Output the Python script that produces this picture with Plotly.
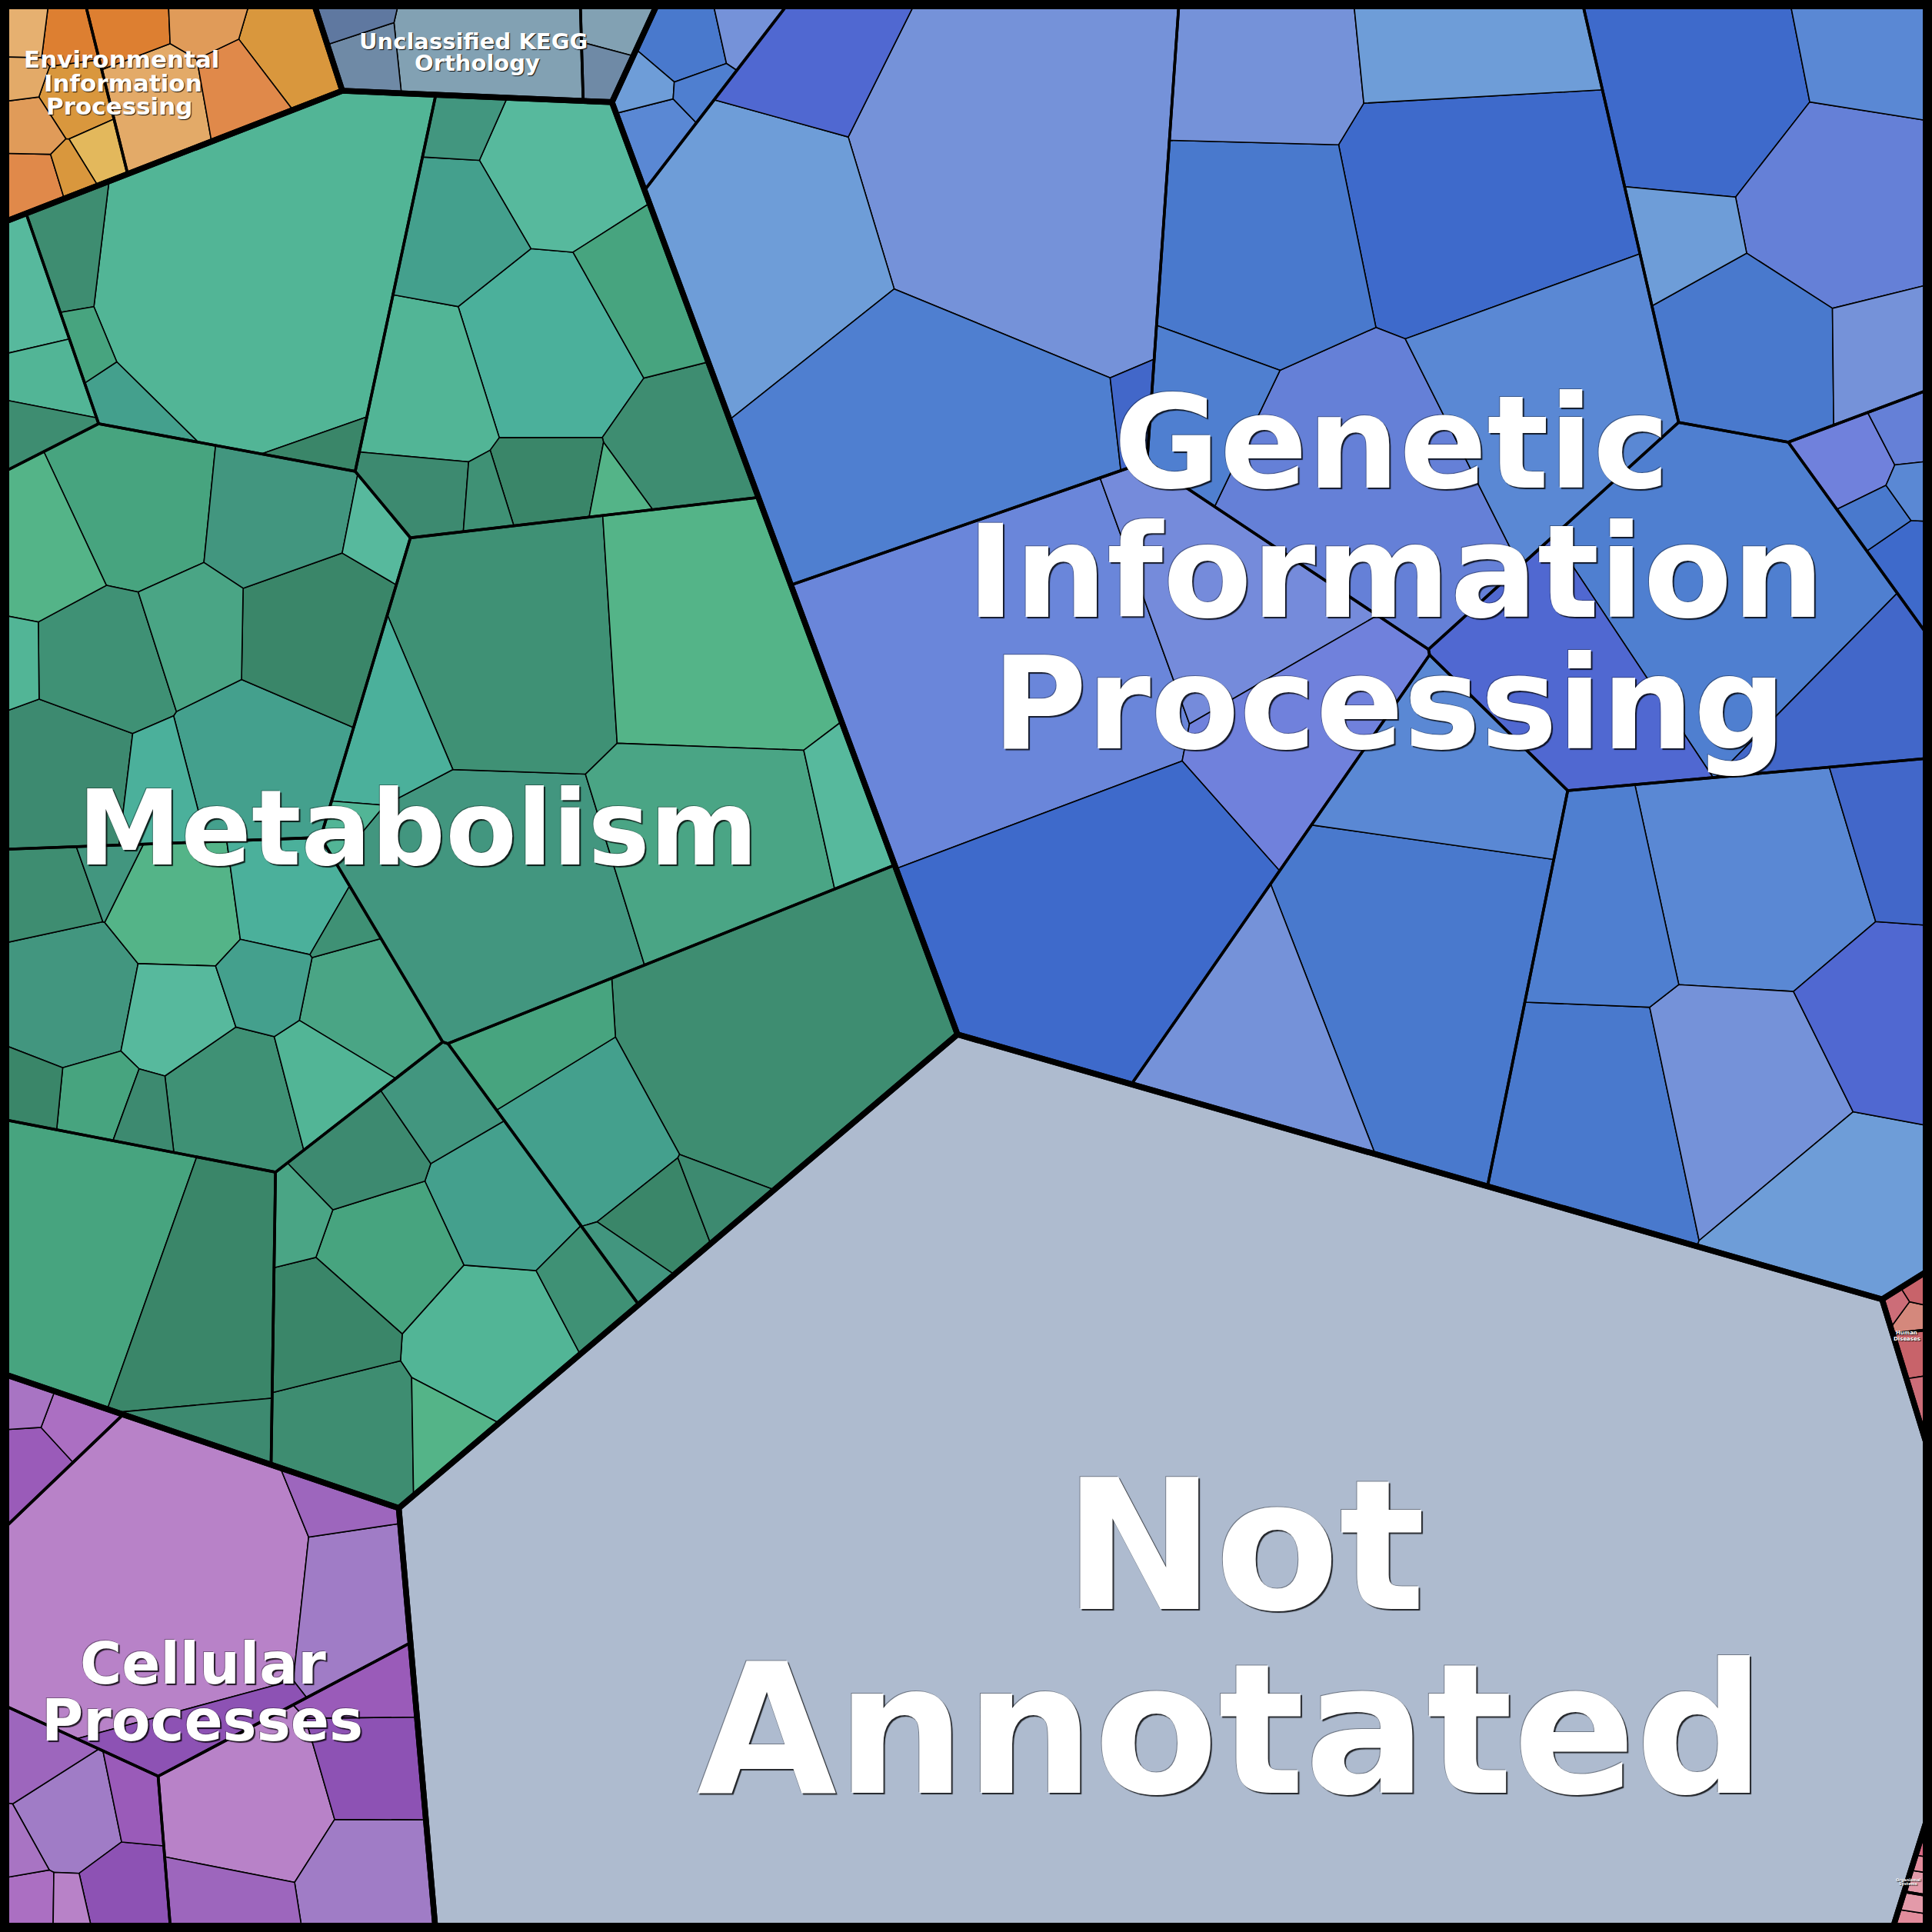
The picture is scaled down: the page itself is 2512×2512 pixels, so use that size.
import math
import plotly.graph_objects as go

# ---------------------------------------------------------------- data
GROUP_NAMES = ["Genetic Information Processing", "Not Annotated", "Metabolism",
               "Cellular Processes", "Environmental Information Processing",
               "Unclassified KEGG Orthology", "Human Diseases", "Organismal Systems"]

genetic_values = [
    [265, 130, 190, 45, 8],
    [14, 10, 8, 6, 5],
    [150, 150, 110, 130, 70, 60, 40],
    [95, 85, 70, 40, 30, 25],
    [14, 10, 8, 6, 5],
    [260, 90, 80, 200],
    [180, 95, 55],
    [95, 110, 85, 75, 65, 55, 35],
    [180, 75, 80],
]
not_annotated_values = [[2940]]
metabolism_values = [
    [235, 18, 11, 7, 6],
    [64, 50, 43, 39, 36, 32, 21, 18, 11, 7, 6],
    [57, 54, 50, 46, 43, 39, 32, 29, 21, 11, 9],
    [150, 129, 122, 107, 29, 21, 14],
    [43, 39, 36, 32, 29, 25, 21, 21, 18, 14, 11, 9, 7, 6],
    [186, 50, 29, 18, 11, 7],
    [50, 43, 39, 36, 32, 25, 21, 18, 14, 11],
    [107, 79, 14],
    [18, 14, 11],
]
cellular_values = [
    [205, 40, 22, 12],
    [58, 38, 28, 22, 14],
    [22, 18, 14, 10, 8, 6, 5],
    [12, 8, 6],
]
environmental_values = [[26, 20, 15, 12, 10], [11, 9, 8, 8, 7, 6, 5, 4]]
unclassified_values = [[48, 10, 7], [9, 6]]
human_values = [[4, 3], [2.5, 2, 1.5]]
organismal_values = [[2, 1.5], [1.5, 1.2, 0.8]]

GROUP_VALUES = [genetic_values, not_annotated_values, metabolism_values, cellular_values,
                environmental_values, unclassified_values, human_values, organismal_values]

# ---------------------------------------------------------------- styles / layout hints
PALETTES = [
    ["#7592d9", "#6a86da", "#4979cd", "#5068d1", "#3e6acb", "#6e9dd8", "#758bdb",
     "#5a88d4", "#4267c9", "#6580d7", "#4f7fd0", "#7081dc"],
    ["#aebbcf"],
    ["#52b596", "#3d8a70", "#4bb09b", "#47a47f", "#54b488", "#3e8d71", "#42967f",
     "#57b99d", "#3a8669", "#4aa585", "#44a08d", "#3f9175"],
    ["#b882c8", "#9d66bd", "#a874c3", "#8d52b4", "#ab6fc2", "#a07cc6", "#9a5bb9"],
    ["#e3aa68", "#dd7f31", "#e3b85c", "#e0894a", "#e6b070", "#d9973d", "#e09b59"],
    ["#82a1b3", "#6f8aa6", "#5f78a0", "#7993ab"],
    ["#c8636a", "#cc6d78", "#c07262", "#d4887c"],
    ["#e28c9c", "#d86a84", "#e39aa9"],
]
# generator sites of the top-level power diagram (in 1568-px units, y downwards)
SITE_SCALE = 1568.0
TOP_SITES = [(1170, 322), (921, 1191), (420, 600), (198, 1254),
             (212, 64), (446, -12), (1585, 987), (1600, 1404)]
# starting seeds for the second level (same units); None -> low-discrepancy seeds
L2_SEEDS = [
    [(720, 150), (530, 110), (1050, 250), (1400, 100), (1530, 360),
     (850, 550), (1150, 470), (1450, 700), (1150, 850)],
    None,
    [(270, 190), (470, 260), (170, 420), (460, 640), (120, 780),
     (590, 900), (370, 1060), (120, 1060), (40, 200)],
    [(170, 1330), (250, 1480), (50, 1500), (40, 1130)],
    None, None, None, None,
]

W = 2512
# label lines: (text, x_px, baseline_px, font_px)
LABELS = [
    ("Genetic", 1809, 634, 168), ("Information", 1814, 802, 168), ("Processing", 1806, 973, 168),
    ("Not", 1618, 2092, 235), ("Annotated", 1600, 2331, 235),
    ("Metabolism", 543, 1124, 135),
    ("Cellular", 264, 2189, 74), ("Processes", 263, 2263, 74),
    ("Environmental", 158, 88, 31), ("Information", 160, 119, 31), ("Processing", 155, 149, 31),
    ("Unclassified KEGG", 615, 64, 29), ("Orthology", 620, 92, 29),
    ("Human", 2479, 1735, 7), ("Diseases", 2479, 1743, 7),
    ("Organismal", 2481, 2446, 5), ("Systems", 2481, 2451, 5),
]


# ---------------------------------------------------------------- geometry
def clip(poly, a, b, c):
    out = []
    n = len(poly)
    for i in range(n):
        x1, y1 = poly[i]
        x2, y2 = poly[(i + 1) % n]
        d1 = a * x1 + b * y1 - c
        d2 = a * x2 + b * y2 - c
        if d1 <= 0:
            out.append((x1, y1))
        if (d1 <= 0) != (d2 <= 0):
            t = d1 / (d1 - d2)
            out.append((x1 + t * (x2 - x1), y1 + t * (y2 - y1)))
    return out


def area_centroid(P):
    n = len(P)
    if n < 3:
        return 0.0, None
    a = cx = cy = 0.0
    for i in range(n):
        x1, y1 = P[i]
        x2, y2 = P[(i + 1) % n]
        cr = x1 * y2 - x2 * y1
        a += cr
        cx += (x1 + x2) * cr
        cy += (y1 + y2) * cr
    if abs(a) < 1e-18:
        return 0.0, None
    a *= 0.5
    return abs(a), (cx / (6 * a), cy / (6 * a))


def one_cell(poly, sites, w, i):
    xi, yi = sites[i]
    cell = poly
    for j, (xj, yj) in enumerate(sites):
        if i == j:
            continue
        cell = clip(cell, 2 * (xj - xi), 2 * (yj - yi),
                    (xj * xj + yj * yj) - (xi * xi + yi * yi) - w[j] + w[i])
        if len(cell) < 3:
            return []
    return cell


def power_cells(poly, sites, w):
    return [one_cell(poly, sites, w, i) for i in range(len(sites))]


def fixed_site_map(poly, targets, sites, sweeps=90):
    """Power diagram with fixed sites, weights solved so that cell areas match targets."""
    n = len(targets)
    total, _ = area_centroid(poly)
    s = float(sum(targets))
    T = [t / s * total for t in targets]
    w = [0.0] * n
    for _ in range(sweeps):
        for i in range(n):
            others = [w[j] for j in range(n) if j != i]
            lo, hi = min(others) - 5.0, max(others) + 5.0
            for _ in range(48):
                mid = 0.5 * (lo + hi)
                w[i] = mid
                a, _ = area_centroid(one_cell(poly, sites, w, i))
                if a < T[i]:
                    lo = mid
                else:
                    hi = mid
            w[i] = 0.5 * (lo + hi)
    return power_cells(poly, sites, w)


def fix_over(sites, w):
    n = len(sites)
    for _ in range(200):
        applied = False
        for i in range(n):
            for j in range(i + 1, n):
                hi, lo = (i, j) if w[i] > w[j] else (j, i)
                d2 = (sites[i][0] - sites[j][0]) ** 2 + (sites[i][1] - sites[j][1]) ** 2
                if d2 < w[hi] - w[lo]:
                    w[hi] -= (w[hi] - w[lo] - d2) + 1e-12
                    applied = True
        if not applied:
            break


def halton(i, b):
    f, r = 1.0, 0.0
    while i > 0:
        f /= b
        r += f * (i % b)
        i //= b
    return r


def inside(poly, p):
    s = 0
    n = len(poly)
    for i in range(n):
        x1, y1 = poly[i]
        x2, y2 = poly[(i + 1) % n]
        cr = (x2 - x1) * (p[1] - y1) - (y2 - y1) * (p[0] - x1)
        if cr > 0:
            if s < 0:
                return False
            s = 1
        elif cr < 0:
            if s > 0:
                return False
            s = -1
    return True


def seeds_in(poly, n, offset):
    xs = [p[0] for p in poly]
    ys = [p[1] for p in poly]
    x0, x1, y0, y1 = min(xs), max(xs), min(ys), max(ys)
    pts = []
    k = offset
    while len(pts) < n and k < offset + 20000:
        k += 1
        p = (x0 + (x1 - x0) * halton(k, 2), y0 + (y1 - y0) * halton(k, 3))
        if inside(poly, p):
            pts.append(p)
    _, c = area_centroid(poly)
    while len(pts) < n:
        pts.append((c[0] + 1e-4 * len(pts), c[1]))
    return pts


def hinted_seeds(poly, hints):
    _, c = area_centroid(poly)
    out = []
    for k, (hx, hy) in enumerate(hints):
        p = (hx / SITE_SCALE, hy / SITE_SCALE)
        tries = 0
        while not inside(poly, p) and tries < 60:
            p = (c[0] + 0.85 * (p[0] - c[0]), c[1] + 0.85 * (p[1] - c[1]))
            tries += 1
        out.append((p[0] + 1e-6 * k, p[1]))
    return out


def voronoi_map(poly, targets, seeds, max_iter=400, tol=0.004):
    n = len(targets)
    if n == 1:
        return [poly]
    total, _ = area_centroid(poly)
    s = float(sum(targets))
    T = [t / s * total for t in targets]
    sites = [list(p) for p in seeds]
    w = [total / n / 2.0] * n
    fix_over(sites, w)
    best = None
    for it in range(max_iter):
        cells = power_cells(poly, sites, w)
        ac = [area_centroid(c) for c in cells]
        err = sum(abs(a - t) for (a, _), t in zip(ac, T)) / (2 * total)
        if best is None or err < best[0]:
            best = (err, cells)
        if err < tol:
            break
        for i in range(n):
            if ac[i][1] is not None:
                sites[i] = [ac[i][1][0], ac[i][1][1]]
        fix_over(sites, w)
        for i in range(n):
            a = max(ac[i][0], 1e-14)
            r = min(max(T[i] / a, 0.25), 4.0)
            w[i] = max(w[i] * r, 1e-14)
        fix_over(sites, w)
    return best[1]


# ---------------------------------------------------------------- layout computation
square = [(0.0, 0.0), (1.0, 0.0), (1.0, 1.0), (0.0, 1.0)]
top_totals = [sum(sum(l) for l in g) for g in GROUP_VALUES]
top_sites = [(x / SITE_SCALE, y / SITE_SCALE) for x, y in TOP_SITES]
top_cells = fixed_site_map(square, top_totals, top_sites)

leaf_polys = []   # (poly, color)
l2_polys = []
offset = 1
for gi, (gvals, gcell) in enumerate(zip(GROUP_VALUES, top_cells)):
    l2_targets = [sum(l) for l in gvals]
    if L2_SEEDS[gi] is not None:
        seeds = hinted_seeds(gcell, L2_SEEDS[gi])
    else:
        seeds = seeds_in(gcell, len(l2_targets), offset)
    l2_cells = voronoi_map(gcell, l2_targets, seeds)
    offset += 37
    pal = PALETTES[gi]
    ci = 0
    for li, (leaves, l2cell) in enumerate(zip(gvals, l2_cells)):
        l2_polys.append(l2cell)
        lc = voronoi_map(l2cell, leaves, seeds_in(l2cell, len(leaves), offset))
        offset += 23
        for k, c in enumerate(lc):
            leaf_polys.append((c, pal[(ci * 5 + li) % len(pal)]))
            ci += 1


def outline_xy(polys):
    xs, ys = [], []
    for p in polys:
        if len(p) < 3:
            continue
        xs += [q[0] for q in p] + [p[0][0], None]
        ys += [q[1] for q in p] + [p[0][1], None]
    return xs, ys


fig = go.Figure()
for poly, col in leaf_polys:
    if len(poly) < 3:
        continue
    fig.add_trace(go.Scatter(
        x=[q[0] for q in poly] + [poly[0][0]], y=[q[1] for q in poly] + [poly[0][1]],
        mode="lines", fill="toself", fillcolor=col,
        line=dict(color="black", width=1.6), hoverinfo="skip", showlegend=False))

x2, y2 = outline_xy(l2_polys)
fig.add_trace(go.Scatter(x=x2, y=y2, mode="lines", line=dict(color="black", width=3.6),
                         hoverinfo="skip", showlegend=False))
x1, y1 = outline_xy(top_cells)
fig.add_trace(go.Scatter(x=x1, y=y1, mode="lines", line=dict(color="black", width=7.5),
                         hoverinfo="skip", showlegend=False))

annotations = []
for text, xp, base, fs in LABELS:
    yc = base - 0.346 * fs
    big = fs >= 60
    shadow = ("-1px -1px 0px rgba(0,0,0,0.35), 2px 2px 1px rgba(0,0,0,0.8)" if big
              else "1px 1px 1px rgba(0,0,0,0.9)")
    annotations.append(dict(
        x=xp / W, y=yc / W, xref="x", yref="y", text=text, showarrow=False,
        xanchor="center", yanchor="middle",
        font=dict(family="DejaVu Sans", size=fs, color="white", weight="bold", shadow=shadow)))

fig.update_layout(
    width=W, height=W, margin=dict(l=0, r=0, t=0, b=0),
    paper_bgcolor="white", plot_bgcolor="white",
    xaxis=dict(range=[0, 1], visible=False, fixedrange=True),
    yaxis=dict(range=[1, 0], visible=False, fixedrange=True),
    showlegend=False, hovermode=False, annotations=annotations,
    shapes=[dict(type="rect", xref="paper", yref="paper", x0=0, y0=0, x1=1, y1=1,
                 line=dict(color="black", width=24), fillcolor="rgba(0,0,0,0)")],
)
fig.write_html("out.html")
